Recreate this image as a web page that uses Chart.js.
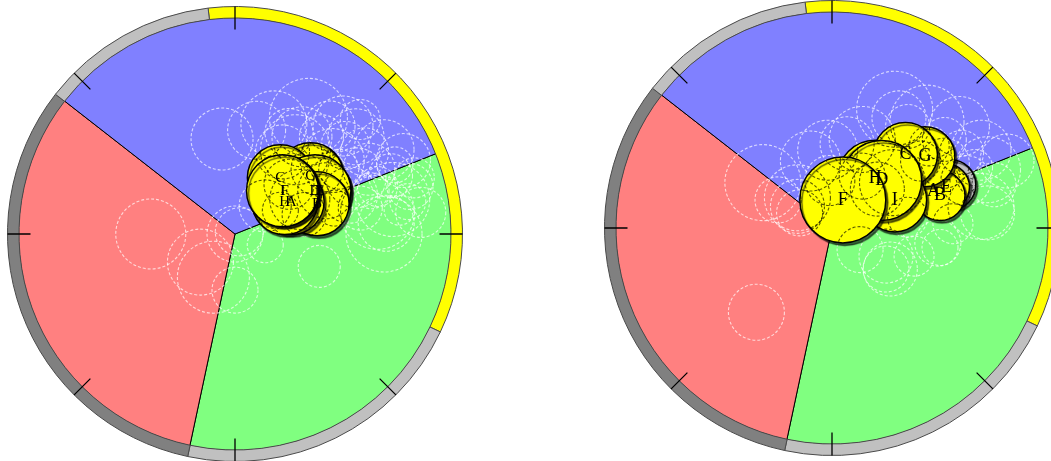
<!DOCTYPE html>
<html>
<head>
<meta charset="utf-8">
<script src="https://cdn.jsdelivr.net/npm/chart.js@4.4.1/dist/chart.umd.min.js"></script>
<style>
  html, body { margin: 0; padding: 0; background: #ffffff; width: 1051px; height: 461px; overflow: hidden; }
  canvas { position: absolute; }
</style>
</head>
<body>
<script>
// ---- Sectors (percent of the disc), clockwise from the start of the green sector
const sectorNames = ['green', 'red', 'blue'];
const sectorShares = [34.4, 32.2, 33.4];
const sectorColors = ['#80ff80', '#ff8080', '#8080ff'];
const sectorStart = 68.2;          // degrees clockwise from 12 o'clock

// ---- Outer band (degrees), clockwise from the start of the yellow arc
const bandNames = ['yellow', 'light', 'dark', 'light'];
const bandSpans = [122.3, 76.5, 115.9, 45.3];
const bandColors = ['#ffff00', '#c0c0c0', '#808080', '#c0c0c0'];
const bandStart = -6.8;
const tickAngles = [0, 45, 90, 135, 180, 225, 270, 315];

// ---- Left disc: labelled points (x, y in disc radii, r in px), drawn bottom to top
const leftNames = ['G', 'C', 'E', 'D', 'B', 'A', 'H', 'F', 'I'];
const leftX = [0.35, 0.21, 0.39, 0.37, 0.38, 0.26, 0.23, 0.23, 0.22];
const leftY = [0.27, 0.26, 0.20, 0.20, 0.14, 0.15, 0.15, 0.20, 0.20];
const leftR = [33, 33, 32, 36, 32, 33, 33, 35, 36];

// ---- Left disc: dashed halos [x, y, r]
const leftHalos = [
  [-0.06, 0.44, 31], [-0.39, 0.00, 35], [-0.16, -0.13, 33], [-0.10, -0.20, 36],
  [0.00, -0.26, 23], [0.00, 0.00, 28], [0.02, 0.01, 24], [0.14, -0.05, 18],
  [0.39, -0.15, 21], [0.34, 0.54, 39], [0.10, 0.48, 29], [0.18, 0.51, 33],
  [0.31, 0.45, 30], [0.22, 0.38, 27], [0.45, 0.34, 32], [0.56, 0.45, 28],
  [0.69, 0.39, 30], [0.78, 0.34, 27], [0.56, 0.26, 30], [0.73, 0.16, 37],
  [0.66, 0.10, 37], [0.81, 0.22, 23], [0.69, 0.00, 38], [0.86, 0.10, 25],
  [0.51, 0.41, 24], [0.62, 0.30, 26], [0.72, 0.27, 22], [0.53, 0.18, 28],
  [0.44, 0.50, 25], [0.28, 0.39, 35], [0.83, 0.26, 20], [0.63, 0.20, 18],
  [0.14, 0.13, 26], [0.30, 0.16, 30], [0.25, 0.23, 25], [0.42, 0.20, 28],
  [0.32, 0.09, 22], [0.21, 0.11, 18], [0.76, 0.11, 15], [0.58, 0.53, 20],
  [0.40, 0.45, 22], [0.48, 0.30, 20], [0.60, 0.38, 24], [0.66, 0.22, 20],
  [0.74, 0.32, 18], [0.50, 0.50, 30], [0.25, 0.47, 24], [0.38, 0.30, 26],
  [0.70, 0.05, 28], [0.80, 0.15, 18], [0.58, 0.12, 22], [0.46, 0.12, 18]
];

// ---- Right disc: labelled points, drawn bottom to top
const rightNames = ['E', 'A', 'B', 'G', 'I', 'C', 'H', 'D', 'F'];
const rightX = [0.53, 0.47, 0.50, 0.43, 0.29, 0.34, 0.20, 0.23, 0.05];
const rightY = [0.19, 0.17, 0.15, 0.33, 0.13, 0.34, 0.23, 0.22, 0.13];
const rightR = [23, 22, 25, 30, 32, 32, 38, 40, 43];
// unlabelled grey point behind the cluster
const rightGrey = [[0.55, 0.20, 25]];

// ---- Right disc: dashed halos [x, y, r]
const rightHalos = [
  [0.29, 0.55, 38], [-0.32, 0.21, 38], [-0.16, 0.14, 33], [-0.02, 0.36, 30],
  [-0.10, 0.31, 30], [-0.16, 0.10, 27], [-0.25, 0.13, 23], [0.31, 0.51, 27],
  [0.44, 0.49, 37], [0.59, 0.47, 30], [0.69, 0.36, 30], [0.72, 0.27, 33],
  [0.69, 0.10, 33], [0.72, 0.07, 27], [0.49, -0.07, 23], [0.25, -0.13, 27],
  [0.27, -0.19, 27], [0.13, -0.10, 23], [0.38, -0.13, 20], [0.07, 0.39, 27],
  [0.14, 0.41, 33], [0.81, 0.31, 27], [-0.35, -0.39, 28], [0.56, 0.02, 20],
  [0.41, 0.31, 20], [0.21, 0.18, 27], [0.28, 0.21, 33], [0.14, 0.24, 23],
  [0.35, 0.05, 20], [0.25, -0.19, 23], [0.50, -0.09, 18], [-0.15, 0.07, 23],
  [-0.01, 0.22, 25], [0.52, 0.41, 22], [0.62, 0.22, 25],
  [0.60, 0.35, 22], [0.66, 0.28, 18], [0.52, 0.30, 25], [0.75, 0.20, 22],
  [0.45, 0.38, 20], [0.35, 0.47, 22]
];

// ---- Layout
const panels = [
  { cx: 235, cy: 234, names: leftNames, xs: leftX, ys: leftY, rs: leftR, halos: leftHalos, grey: [], font: 15 },
  { cx: 832, cy: 228, names: rightNames, xs: rightX, ys: rightY, rs: rightR, halos: rightHalos, grey: rightGrey, font: 18 }
];
const DISC_R = 216;     // px radius of the sector disc
const BAND_W = 11.5;    // px width of the outer band
const TICK_LEN = 23;

const quiet = {
  responsive: false,
  animation: false,
  events: [],
  layout: { autoPadding: false, padding: 0 },
  plugins: { legend: { display: false }, tooltip: { enabled: false } }
};

function addCanvas(cx, cy, size) {
  const c = document.createElement('canvas');
  c.width = size; c.height = size;
  c.style.width = size + 'px'; c.style.height = size + 'px';
  c.style.left = (cx - size / 2) + 'px';
  c.style.top = (cy - size / 2) + 'px';
  document.body.appendChild(c);
  return c;
}

// ticks across the outer band every 45 degrees
const bandTicks = {
  id: 'bandTicks',
  afterDatasetsDraw(chart) {
    const arc = chart.getDatasetMeta(0).data[0];
    const { x, y, outerRadius } = arc.getProps(['x', 'y', 'outerRadius'], true);
    const ctx = chart.ctx;
    ctx.save();
    ctx.strokeStyle = '#000';
    ctx.lineWidth = 1.3;
    ctx.beginPath();
    for (const a of tickAngles) {
      const t = (a - 90) * Math.PI / 180;
      ctx.moveTo(x + Math.cos(t) * (outerRadius - TICK_LEN), y + Math.sin(t) * (outerRadius - TICK_LEN));
      ctx.lineTo(x + Math.cos(t) * outerRadius, y + Math.sin(t) * outerRadius);
    }
    ctx.stroke();
    ctx.restore();
  }
};

// per-dataset canvas state: dash pattern, drop shadow, compositing
const markStyle = {
  id: 'markStyle',
  beforeDatasetDraw(chart, args) {
    const ds = chart.data.datasets[args.index];
    const ctx = chart.ctx;
    ctx.save();
    if (ds.dash) ctx.setLineDash(ds.dash);
    if (ds.shadow) {
      ctx.shadowColor = 'rgba(0,0,0,0.6)';
      ctx.shadowOffsetX = 2;
      ctx.shadowOffsetY = 2.5;
      ctx.shadowBlur = 1;
    }
    if (ds.composite) ctx.globalCompositeOperation = ds.composite;
  },
  afterDatasetDraw(chart) {
    chart.ctx.restore();
  },
  afterDatasetsDraw(chart) {
    const ctx = chart.ctx;
    chart.data.datasets.forEach((ds, i) => {
      if (!ds.names) return;
      const meta = chart.getDatasetMeta(i);
      ctx.save();
      ctx.fillStyle = '#000';
      ctx.font = ds.fontSize + 'px "Liberation Serif", "DejaVu Serif", serif';
      ctx.textAlign = 'center';
      ctx.textBaseline = 'middle';
      meta.data.forEach((pt, j) => ctx.fillText(ds.names[j], pt.x, pt.y));
      ctx.restore();
    });
  }
};

const unitScales = {
  x: { type: 'linear', min: -1, max: 1, display: false },
  y: { type: 'linear', min: -1, max: 1, display: false }
};

function toPoints(list) {
  return list.map(([x, y, r]) => ({ x, y, r }));
}

panels.forEach(p => {
  // sector disc
  const pieSize = 2 * DISC_R + 2;
  new Chart(addCanvas(p.cx, p.cy, pieSize), {
    type: 'pie',
    data: {
      labels: sectorNames,
      datasets: [{ data: sectorShares, backgroundColor: sectorColors, borderColor: '#000', borderWidth: 1 }]
    },
    options: { ...quiet, rotation: sectorStart }
  });

  // white dashed halos on the disc
  new Chart(addCanvas(p.cx, p.cy, 2 * DISC_R), {
    type: 'bubble',
    data: {
      datasets: [{
        data: toPoints(p.halos),
        backgroundColor: 'rgba(0,0,0,0)',
        borderColor: 'rgba(255,255,255,0.7)',
        borderWidth: 1.1,
        clip: false,
        dash: [3, 2]
      }]
    },
    options: { ...quiet, scales: unitScales },
    plugins: [markStyle]
  });

  // outer band with ticks
  const bandSize = 2 * (DISC_R + BAND_W) + 1;
  new Chart(addCanvas(p.cx, p.cy, bandSize), {
    type: 'doughnut',
    data: {
      labels: bandNames,
      datasets: [{ data: bandSpans, backgroundColor: bandColors, borderColor: '#4a4a4a', borderWidth: 1 }]
    },
    options: { ...quiet, rotation: bandStart, cutout: DISC_R },
    plugins: [bandTicks]
  });

  // labelled points; dashed halos show dark where they cross them
  const marks = {
    data: p.xs.map((x, i) => ({ x, y: p.ys[i], r: p.rs[i] })),
    backgroundColor: '#ffff00',
    borderColor: '#000',
    borderWidth: 1.5,
    clip: false,
    shadow: true,
    names: p.names,
    fontSize: p.font,
    order: 1
  };
  const sets = [
    {
      data: toPoints(p.halos),
      backgroundColor: 'rgba(0,0,0,0)',
      borderColor: 'rgba(0,0,0,0.65)',
      borderWidth: 1.1,
      clip: false,
      dash: [3, 2],
      composite: 'source-atop',
      order: 0
    },
    marks
  ];
  if (p.grey.length) {
    sets.push({
      data: toPoints(p.grey),
      backgroundColor: '#c0c0c0',
      borderColor: '#000',
      borderWidth: 1.5,
      clip: false,
      shadow: true,
      order: 2
    });
  }
  new Chart(addCanvas(p.cx, p.cy, 2 * DISC_R), {
    type: 'bubble',
    data: { datasets: sets },
    options: { ...quiet, scales: unitScales },
    plugins: [markStyle]
  });
});
</script>
</body>
</html>
